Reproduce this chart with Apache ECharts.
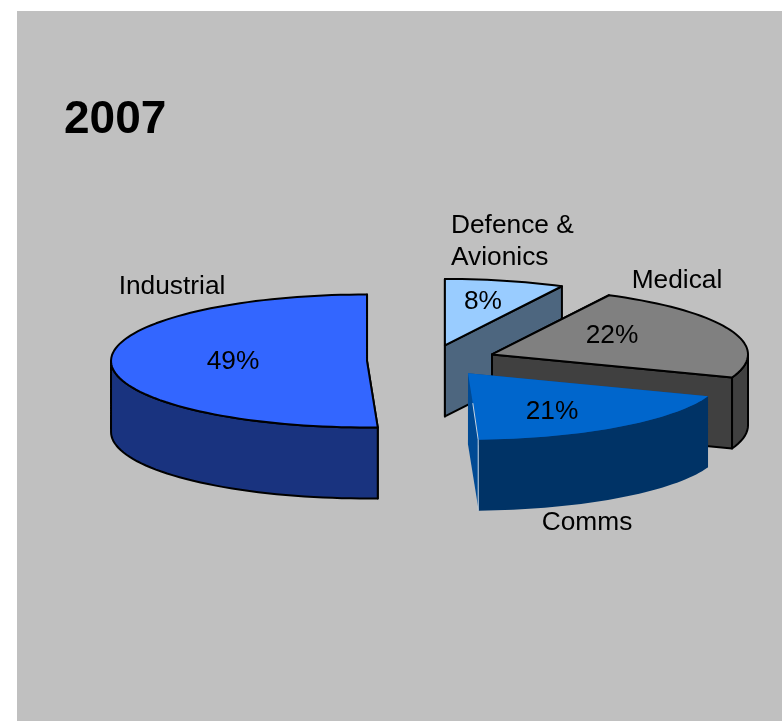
<!DOCTYPE html>
<html>
<head>
<meta charset="utf-8">
<style>html,body{margin:0;padding:0;background:#fff}#chart{width:782px;height:721px}</style>
<script src="https://cdn.jsdelivr.net/npm/echarts@6/dist/echarts.min.js"></script>
</head>
<body>
<div id="chart"></div>
<script>
// Segment shares for 2007, in percent, clockwise from twelve o'clock
const categories = ['Defence &\nAvionics', 'Medical', 'Comms', 'Industrial'];
const shares = [8, 22, 21, 49];
const percentLabels = ['8%', '22%', '21%', '49%'];

// Fill colours for the top face, the rim and the visible cut face
const topColors = ['#99ccff', '#808080', '#0066cc', '#3366ff'];
const rimColors = ['#4d667f', '#404040', '#003366', '#19337f'];
const cutColors = ['#4d667f', '#404040', '#004a94', '#19337f'];
const outlined = [true, true, false, true];
const edgeGlints = [null, null, '#c6d4e2', null];

// Where each text sits, in axis units
const percentAnchors = [[483, 302], [612, 336], [552, 412], [233, 362]];
const nameAnchors = [[451, 242], [677, 281], [587, 523], [172, 287]];
const nameAligns = ['left', 'center', 'center', 'center'];

// Projection of the flattened disc
const pieCentre = [431, 361.5];
const radiusX = 256;
const radiusY = 66.5;
const depth = 71;
const explode = 0.25;
const sliceNudges = [[-2, 0], [1.5, -1], [1, -2], [0, 0]];
// The view leans the disc slightly around these bearings: [bearing, degrees, spread]
const viewLeans = [[28.8, 1.6, 12], [108, -2.5, 10], [183.6, 6, 40]];

function leaned(deg) {
  let out = deg;
  viewLeans.forEach(function (l) {
    const d = (deg - l[0]) / l[2];
    out -= l[1] * Math.exp(-d * d);
  });
  return out;
}
function rimOffset(deg) {
  const r = leaned(deg) * Math.PI / 180;
  return [radiusX * Math.sin(r), -radiusY * Math.cos(r)];
}

let running = 0;
const spans = shares.map(function (v) {
  const from = running;
  running += v * 3.6;
  return [from, running];
});

function sampleArc(from, to) {
  const n = Math.max(2, Math.ceil((to - from) / 2));
  const out = [];
  for (let i = 0; i <= n; i++) out.push(from + (to - from) * i / n);
  return out;
}

function renderSlice(params, api) {
  const i = params.dataIndex;
  const from = spans[i][0];
  const to = spans[i][1];
  const mid = (from + to) / 2 * Math.PI / 180;
  const ax = pieCentre[0] + explode * radiusX * Math.sin(mid) + sliceNudges[i][0];
  const ay = pieCentre[1] - explode * radiusY * Math.cos(mid) + sliceNudges[i][1];
  const at = function (deg, drop) {
    const o = rimOffset(deg);
    return api.coord([ax + o[0], ay + o[1] + drop]);
  };
  const apexTop = api.coord([ax, ay]);
  const apexLow = api.coord([ax, ay + depth]);
  const line = outlined[i] ? { stroke: '#000', lineWidth: 2, lineJoin: 'round' } : { stroke: null, lineWidth: 0 };
  const face = function (points, fill) {
    return { type: 'polygon', shape: { points: points }, style: Object.assign({ fill: fill }, line) };
  };
  const children = [];

  // Cut faces first, so the rim and top paint over any that face away
  children.push(face([apexTop, at(from, 0), at(from, depth), apexLow], cutColors[i]));
  children.push(face([apexTop, at(to, 0), at(to, depth), apexLow], cutColors[i]));

  // Rim: only the part of the arc on the front half of the disc shows
  const frontFrom = Math.max(from, 90);
  const frontTo = Math.min(to, 270);
  if (frontTo > frontFrom) {
    const steps = sampleArc(frontFrom, frontTo);
    const upper = steps.map(function (d) { return at(d, 0); });
    const lower = steps.map(function (d) { return at(d, depth); }).reverse();
    children.push(face(upper.concat(lower), rimColors[i]));
  }

  // Top face
  const rim = sampleArc(from, to).map(function (d) { return at(d, 0); });
  children.push(face([apexTop].concat(rim), topColors[i]));

  // Thin pale seam where the cut face meets the rim
  if (edgeGlints[i]) {
    const corner = at(to, 0);
    const seamStart = [apexTop[0] + (corner[0] - apexTop[0]) * 0.45, apexTop[1] + (corner[1] - apexTop[1]) * 0.45];
    children.push({
      type: 'polyline',
      shape: { points: [seamStart, [corner[0] - 0.5, corner[1]], [corner[0] - 0.5, at(to, depth)[1]]] },
      style: { fill: null, stroke: edgeGlints[i], lineWidth: 1 }
    });
  }

  // Percentage and segment name
  const textStyle = { fontFamily: '"Liberation Sans", Arial, sans-serif', fontSize: 26.3, fill: '#000', lineHeight: 32 };
  const pct = api.coord(percentAnchors[i]);
  const nm = api.coord(nameAnchors[i]);
  children.push({
    type: 'text', x: pct[0], y: pct[1],
    style: Object.assign({ text: percentLabels[i], align: 'center', verticalAlign: 'middle' }, textStyle)
  });
  children.push({
    type: 'text', x: nm[0], y: nm[1],
    style: Object.assign({ text: categories[i], align: nameAligns[i], verticalAlign: 'middle' }, textStyle)
  });
  return { type: 'group', children: children };
}

const chart = echarts.init(document.getElementById('chart'), null, { renderer: 'canvas' });
chart.setOption({
  animation: false,
  backgroundColor: '#ffffff',
  title: {
    text: '2007',
    left: 59,
    top: 92,
    textStyle: { fontFamily: '"Liberation Sans", Arial, sans-serif', fontSize: 46, fontWeight: 'bold', color: '#000' }
  },
  grid: { show: true, left: 17, top: 11, right: 0, bottom: 0, backgroundColor: '#c0c0c0', borderWidth: 0 },
  xAxis: { type: 'value', min: 17, max: 782, show: false },
  yAxis: { type: 'value', min: 11, max: 721, inverse: true, show: false },
  series: [{
    type: 'custom',
    coordinateSystem: 'cartesian2d',
    renderItem: renderSlice,
    clip: false,
    silent: true,
    encode: { x: 0 },
    data: shares.map(function (v, i) { return { name: categories[i], value: [v] }; })
  }]
});
</script>
</body>
</html>
